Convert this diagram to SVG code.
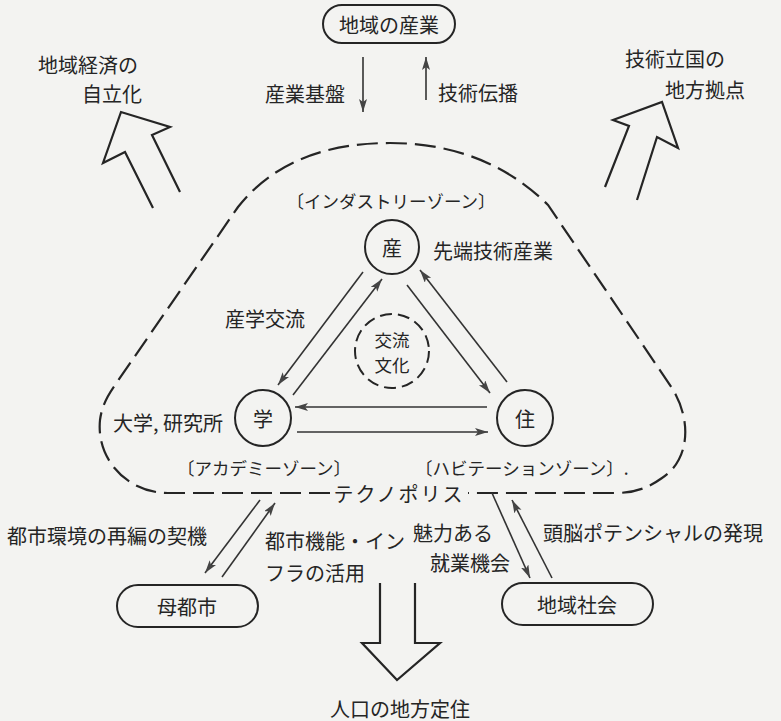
<svg xmlns="http://www.w3.org/2000/svg" width="781" height="721" viewBox="0 0 781 721">
<style>
text{font-family:"Noto Sans CJK JP","Noto Sans",sans-serif;font-size:20px;fill:#252525;dominant-baseline:central}
.m{text-anchor:middle}
.z{font-size:17.5px}
.s{font-size:17.5px}
.box{fill:none;stroke:#252525;stroke-width:2}
.cn{fill:none;stroke:#333;stroke-width:1.6}
.big{fill:none;stroke:#252525;stroke-width:2.2;stroke-linejoin:miter}
.dash{fill:none;stroke:#252525;stroke-width:2.2;stroke-dasharray:21 8}
</style>
<defs>
<marker id="ah" markerUnits="userSpaceOnUse" markerWidth="14" markerHeight="10" refX="13" refY="4" orient="auto">
<path d="M0,0 L13,4 L0,8 L3,4 z" fill="#444"/>
</marker>
</defs>
<rect width="781" height="721" fill="#f3f3f1"/>

<g id="boundary">
<path class="dash" d="M330,493 H168 C128,493 96,460 100,420 C102,405 108,395 115,385 L238,207 C275,160 330,143 390,143 C450,143 505,162 548,205 L672,388 C692,420 690,460 662,478 C648,488 635,493 615,493 H468"/>
<text x="399" y="493" class="m" letter-spacing="2">テクノポリス</text>
</g>

<g id="top-industry">
<rect class="box" x="323" y="5" width="132" height="38" rx="19"/>
<text x="389" y="24" class="m">地域の産業</text>
</g>

<g id="goal-left">
<polyline class="big" points="153,208 125,152 103,163 121,112 170,127 152,135 180,192"/>
<text x="38" y="64">地域経済の</text>
<text x="82" y="93">自立化</text>
</g>

<g id="goal-right">
<polyline class="big" points="605,187 629,126 613,120 662,102 678,148 657,137 637,200"/>
<text x="625" y="58">技術立国の</text>
<text x="665" y="89">地方拠点</text>
</g>

<g id="goal-bottom">
<polyline class="big" points="380,583 380,643 362,643 397,680 440,643 415,643 415,583"/>
<text x="400" y="708" class="m">人口の地方定住</text>
</g>

<g id="san">
<circle class="box" cx="392" cy="247" r="27"/>
<text x="392" y="247" class="m">産</text>
<text x="433" y="250">先端技術産業</text>
<text x="391" y="200" class="m z">〔インダストリーゾーン〕</text>
</g>

<g id="gaku">
<circle class="box" cx="263" cy="418" r="28"/>
<text x="263" y="418" class="m">学</text>
<text x="113" y="422">大学, 研究所</text>
<text x="264" y="467" class="m z">〔アカデミーゾーン〕</text>
</g>

<g id="ju">
<circle class="box" cx="525" cy="418" r="28"/>
<text x="525" y="418" class="m">住</text>
<text x="415" y="467" class="z">〔ハビテーションゾーン〕.</text>
</g>

<g id="culture">
<circle cx="392" cy="351" r="37" fill="none" stroke="#252525" stroke-width="2" stroke-dasharray="12 6"/>
<text class="m s"><tspan x="392" y="339">交流</tspan><tspan x="392" y="364">文化</tspan></text>
</g>

<g id="mother-city">
<rect class="box" x="117" y="585" width="141" height="42" rx="21"/>
<text x="187" y="606" class="m">母都市</text>
</g>

<g id="community">
<rect class="box" x="502" y="583" width="151" height="42" rx="21"/>
<text x="577" y="604" class="m">地域社会</text>
</g>

<g id="connectors">
<line class="cn" x1="363" y1="57" x2="363" y2="112" marker-end="url(#ah)"/>
<line class="cn" x1="426" y1="100" x2="426" y2="57" marker-end="url(#ah)"/>
<line class="cn" x1="363" y1="272" x2="278" y2="385" marker-end="url(#ah)"/>
<line class="cn" x1="293" y1="395" x2="382" y2="279" marker-end="url(#ah)"/>
<line class="cn" x1="407" y1="285" x2="490" y2="393" marker-end="url(#ah)"/>
<line class="cn" x1="507" y1="382" x2="420" y2="270" marker-end="url(#ah)"/>
<line class="cn" x1="487" y1="407" x2="295" y2="407" marker-end="url(#ah)"/>
<line class="cn" x1="297" y1="432" x2="488" y2="432" marker-end="url(#ah)"/>
<line class="cn" x1="260" y1="500" x2="205" y2="573" marker-end="url(#ah)"/>
<line class="cn" x1="222" y1="577" x2="275" y2="503" marker-end="url(#ah)"/>
<line class="cn" x1="492" y1="493" x2="530" y2="578" marker-end="url(#ah)"/>
<line class="cn" x1="552" y1="578" x2="512" y2="500" marker-end="url(#ah)"/>
</g>

<g id="labels">
<text x="265" y="93">産業基盤</text>
<text x="438" y="92">技術伝播</text>
<text x="225" y="318">産学交流</text>
<text x="7" y="535">都市環境の再編の契機</text>
<text x="265" y="540">都市機能・イン</text>
<text x="265" y="572">フラの活用</text>
<text x="413" y="532">魅力ある</text>
<text x="430" y="562">就業機会</text>
<text x="543" y="532">頭脳ポテンシャルの発現</text>
</g>
</svg>
